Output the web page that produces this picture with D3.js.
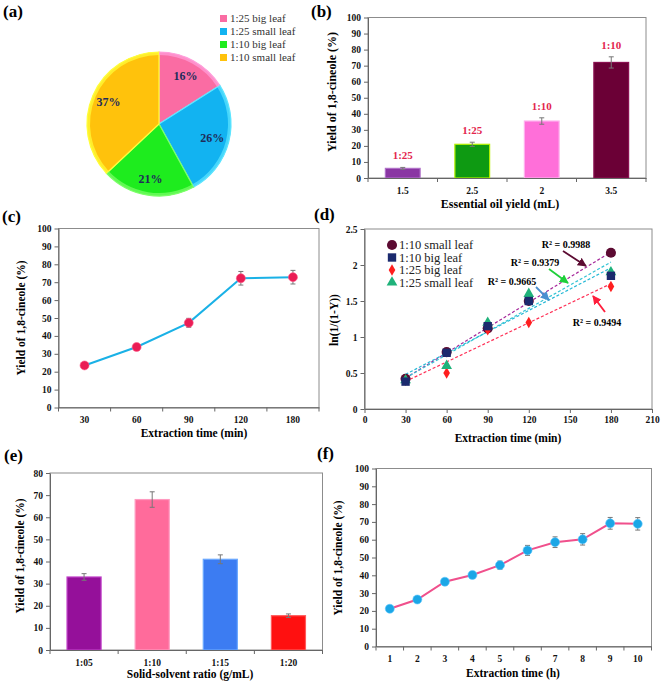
<!DOCTYPE html>
<html>
<head>
<meta charset="UTF-8">
<title>1,8-cineole extraction</title>
<script src="https://d3js.org/d3.v7.min.js"></script>
<style>
  body { margin: 0; background: #fff; }
  text { font-family: "Liberation Serif", "Times New Roman", serif; }
</style>
</head>
<body>
<script>
// ---------- data ----------
// (a) pie
var pieLabels = ["1:25 big leaf", "1:25 small leaf", "1:10 big leaf", "1:10 small leaf"];
var pieValues = [16, 26, 21, 37];

// (b) bars
var bCats = ["1.5", "2.5", "2", "3.5"];
var bValues = [6, 21, 35.5, 72];
var bErrors = [0.6, 1.3, 2, 3.5];
var bRatios = ["1:25", "1:25", "1:10", "1:10"];

// (c) yield vs time (min)
var cTimes = ["30", "60", "90", "120", "180"];
var cValues = [23.5, 33.8, 47.3, 72.2, 72.8];
var cErrors = [0.6, 0.8, 2.5, 3.8, 3.8];

// (d) kinetics
var dTimes = [30, 60, 90, 120, 180];
var dNames = ["1:10 small leaf", "1:10 big leaf", "1:25 big leaf", "1:25 small leaf"];
var dSmall10 = [0.42, 0.79, 1.12, 1.5, 2.17];
var dBig10 = [0.38, 0.78, 1.15, 1.5, 1.85];
var dBig25 = [0.4, 0.5, 1.1, 1.2, 1.7];
var dSmall25 = [0.4, 0.6, 1.2, 1.6, 1.9];
var dR2 = ["R² = 0.9988", "R² = 0.9665", "R² = 0.9494", "R² = 0.9379"];

// (e) solid-solvent ratio
var eCats = ["1:05", "1:10", "1:15", "1:20"];
var eValues = [33, 68, 41, 15.5];
var eErrors = [1.5, 3.5, 2, 0.8];

// (f) yield vs time (h)
var fTimes = ["1", "2", "3", "4", "5", "6", "7", "8", "9", "10"];
var fValues = [21.2, 26.4, 36.4, 40.2, 45.7, 54, 58.6, 60.2, 69.2, 68.9];
var fErrors = [1, 1.2, 1.8, 1.8, 2.3, 2.8, 3, 3.2, 3.3, 3.5];

// ---------- helpers ----------
var svg = d3.select("body").append("svg")
    .attr("width", 661)
    .attr("height", 682);

function panelLabel(txt, x, y) {
    svg.append("text")
        .attr("x", x).attr("y", y)
        .attr("font-size", 17).attr("font-weight", "bold")
        .text(txt);
}

function frame(x0, y0, x1, y1) {
    svg.append("rect")
        .attr("x", x0).attr("y", y0)
        .attr("width", x1 - x0).attr("height", y1 - y0)
        .attr("fill", "none").attr("stroke", "#8c8c8c").attr("stroke-width", 1);
}

function styleAxis(g) {
    g.select(".domain").attr("stroke", "#666");
    g.selectAll(".tick line").attr("stroke", "#666");
    g.selectAll(".tick text")
        .attr("font-size", 9.5).attr("font-weight", "bold")
        .attr("fill", "#111");
}

function yAxis(y, x0, ticks, fmt) {
    var g = svg.append("g").attr("transform", "translate(" + x0 + ",0)")
        .call(d3.axisLeft(y).tickValues(ticks).tickSize(4).tickSizeOuter(0).tickFormat(fmt || d3.format("")));
    styleAxis(g);
}

function bandXAxis(x, y0) {
    var g = svg.append("g").attr("transform", "translate(0," + y0 + ")")
        .call(d3.axisBottom(x).tickSize(0).tickPadding(9));
    styleAxis(g);
    // ticks sit between categories
    var edges = x.domain().map(function (d) { return x(d) - x.step() * x.paddingInner() / 2; });
    edges.push(x.range()[1]);
    svg.append("g").selectAll("line").data(edges).join("line")
        .attr("x1", function (d) { return d; }).attr("x2", function (d) { return d; })
        .attr("y1", y0).attr("y2", y0 + 4)
        .attr("stroke", "#666");
}

function titles(xt, xx, xy, yt, yx, yy, size) {
    svg.append("text").attr("x", xx).attr("y", xy)
        .attr("text-anchor", "middle").attr("font-size", size || 11.5).attr("font-weight", "bold")
        .text(xt);
    svg.append("text").attr("transform", "translate(" + yx + "," + yy + ") rotate(-90)")
        .attr("text-anchor", "middle").attr("font-size", size || 11.5).attr("font-weight", "bold")
        .text(yt);
}

function errorBars(data, xf, y, color) {
    var g = svg.append("g").attr("stroke", color || "#777").attr("stroke-width", 1);
    data.forEach(function (d) {
        var cx = xf(d), top = y(d.v + d.e), bot = y(d.v - d.e);
        g.append("line").attr("x1", cx).attr("x2", cx).attr("y1", top).attr("y2", bot);
        g.append("line").attr("x1", cx - 2.5).attr("x2", cx + 2.5).attr("y1", top).attr("y2", top);
        g.append("line").attr("x1", cx - 2.5).attr("x2", cx + 2.5).attr("y1", bot).attr("y2", bot);
    });
}

// ---------- (a) pie ----------
panelLabel("(a)", 3, 17);
var pieColors = ["#fa6ca3", "#12b3f1", "#1eec1e", "#ffc20c"];
var pieEdges = ["#ff9fdc", "#5ee6ff", "#7dff6a", "#ffff3a"];
var pie = d3.pie().sort(null)(pieValues);
var R = 72;
var pg = svg.append("g").attr("transform", "translate(159,124)");
var arc = d3.arc().innerRadius(0).outerRadius(R);
var rim = d3.arc().innerRadius(R - 3).outerRadius(R);
var labArc = d3.arc().innerRadius(55).outerRadius(55);
pg.selectAll("path.slice").data(pie).join("path")
    .attr("class", "slice")
    .attr("d", arc)
    .attr("fill", function (d, i) { return pieColors[i]; })
    .attr("stroke", function (d, i) { return pieEdges[i]; })
    .attr("stroke-width", 1.2);
pg.selectAll("path.rim").data(pie).join("path")
    .attr("class", "rim")
    .attr("d", rim)
    .attr("fill", function (d, i) { return pieEdges[i]; })
    .attr("opacity", 0.7);
pg.selectAll("text").data(pie).join("text")
    .attr("transform", function (d) { return "translate(" + labArc.centroid(d) + ")"; })
    .attr("text-anchor", "middle").attr("dy", "0.35em")
    .attr("font-size", 12).attr("font-weight", "bold").attr("fill", "#1f2d5a")
    .text(function (d) { return d.data + "%"; });
var lg = svg.append("g");
pieLabels.forEach(function (l, i) {
    lg.append("rect").attr("x", 220).attr("y", 15 + i * 13)
        .attr("width", 7).attr("height", 7).attr("fill", pieColors[i]);
    lg.append("text").attr("x", 230).attr("y", 22 + i * 13)
        .attr("font-size", 11).attr("fill", "#333").text(l);
});

// ---------- (b) bars ----------
panelLabel("(b)", 311, 17);
var bx = d3.scaleBand().domain(bCats).range([368, 646]).paddingInner(0.5).paddingOuter(0.25);
var by = d3.scaleLinear().domain([0, 100]).range([178, 17.5]);
frame(368, 17.5, 646, 178);
var bColors = ["#8a36a3", "#0e9a12", "#ff6fd9", "#6b0036"];
var bEdges = ["#b070c8", "#b4f000", "#ffb0ee", "#8a1050"];
svg.append("g").selectAll("rect").data(bValues).join("rect")
    .attr("x", function (d, i) { return bx(bCats[i]); })
    .attr("y", function (d) { return by(d); })
    .attr("width", bx.bandwidth())
    .attr("height", function (d) { return by(0) - by(d); })
    .attr("fill", function (d, i) { return bColors[i]; })
    .attr("stroke", function (d, i) { return bEdges[i]; })
    .attr("stroke-width", 1.2);
var bData = bValues.map(function (v, i) { return { c: bCats[i], v: v, e: bErrors[i] }; });
errorBars(bData, function (d) { return bx(d.c) + bx.bandwidth() / 2; }, by);
svg.append("g").selectAll("text").data(bData).join("text")
    .attr("x", function (d) { return bx(d.c) + bx.bandwidth() / 2; })
    .attr("y", function (d) { return by(d.v + d.e) - 8; })
    .attr("text-anchor", "middle").attr("font-size", 11).attr("font-weight", "bold")
    .attr("fill", "#e3254d")
    .text(function (d, i) { return bRatios[i]; });
yAxis(by, 368, d3.range(0, 101, 10));
bandXAxis(bx, 178);
titles("Essential oil yield (mL)", 500, 208, "Yield of 1,8-cineole (%)", 336, 92, 12);

// ---------- (c) line ----------
panelLabel("(c)", 2, 222);
var cx = d3.scaleBand().domain(cTimes).range([58.5, 319]);
var cy = d3.scaleLinear().domain([0, 100]).range([407.5, 228.5]);
frame(58.5, 228.5, 319, 407.5);
var cData = cValues.map(function (v, i) { return { c: cTimes[i], v: v, e: cErrors[i] }; });
var cxf = function (d) { return cx(d.c) + cx.bandwidth() / 2; };
errorBars(cData, cxf, cy);
svg.append("path").datum(cData)
    .attr("d", d3.line().x(cxf).y(function (d) { return cy(d.v); }))
    .attr("fill", "none").attr("stroke", "#1ab1e6").attr("stroke-width", 2);
svg.append("g").selectAll("circle").data(cData).join("circle")
    .attr("cx", cxf).attr("cy", function (d) { return cy(d.v); })
    .attr("r", 4.5).attr("fill", "#ea1d55").attr("stroke", "#ff5a8a").attr("stroke-width", 0.6);
yAxis(cy, 58.5, d3.range(0, 101, 10));
bandXAxis(cx, 407.5);
titles("Extraction time (min)", 194, 437, "Yield of 1,8-cineole (%)", 25, 318);

// ---------- (d) kinetics ----------
panelLabel("(d)", 314, 220);
var dx = d3.scaleLinear().domain([0, 210]).range([364.5, 652]);
var dy = d3.scaleLinear().domain([0, 2.5]).range([409, 229]);
frame(364.5, 229, 652, 409);
var dSeries = [dSmall10, dBig10, dBig25, dSmall25];
var dColors = ["#5c0b32", "#1b2a6e", "#ff1e1e", "#1fb27a"];
var dTrend = ["#a5279a", "#25b9d6", "#ff2f55", "#34c4d4"];
var dShapes = [d3.symbolCircle, d3.symbolSquare, d3.symbolDiamond, d3.symbolTriangle];
var dSizes = [80, 70, 38, 50];

function fit(ys) {
    var mx = d3.mean(dTimes), my = d3.mean(ys);
    var sxy = d3.sum(dTimes, function (t, i) { return (t - mx) * (ys[i] - my); });
    var sxx = d3.sum(dTimes, function (t) { return (t - mx) * (t - mx); });
    var b = sxy / sxx;
    return function (t) { return my + b * (t - mx); };
}
var tEnds = d3.extent(dTimes);
dSeries.forEach(function (ys, k) {
    var f = fit(ys);
    svg.append("path").datum(tEnds)
        .attr("d", d3.line().x(function (t) { return dx(t); }).y(function (t) { return dy(f(t)); }))
        .attr("stroke", dTrend[k]).attr("stroke-width", 1.2)
        .attr("stroke-dasharray", "3,2").attr("fill", "none");
});
// draw markers, small leaf 1:10 first so squares sit on top as in the figure
[0, 2, 3, 1].forEach(function (k) {
    svg.append("g").selectAll("path").data(dSeries[k]).join("path")
        .attr("transform", function (v, i) { return "translate(" + dx(dTimes[i]) + "," + dy(v) + ")"; })
        .attr("d", d3.symbol().type(dShapes[k]).size(dSizes[k]))
        .attr("fill", dColors[k]);
});
// legend
dNames.forEach(function (n, i) {
    svg.append("path")
        .attr("transform", "translate(392," + (245 + i * 12.5) + ")")
        .attr("d", d3.symbol().type(dShapes[i]).size(dSizes[i]))
        .attr("fill", dColors[i]);
    svg.append("text").attr("x", 399).attr("y", 249 + i * 12.5)
        .attr("font-size", 12.5).attr("fill", "#222").text(n);
});
// R² labels with arrows: [text x, text y, arrow from, arrow to, colour]
var rPos = [
    [566, 248, [563, 251], [586, 266], "#5c0b32"],
    [512, 285, [536, 287], [549, 300], "#4a8fd0"],
    [597, 326, [605, 312], [593, 296], "#ff1e3c"],
    [535, 266, [549, 269], [568, 283], "#1fcf3a"]
];
var defs = svg.append("defs");
rPos.forEach(function (p, i) {
    defs.append("marker").attr("id", "ah" + i)
        .attr("viewBox", "0 0 10 10").attr("refX", 9).attr("refY", 5)
        .attr("markerWidth", 5).attr("markerHeight", 5).attr("orient", "auto")
        .append("path").attr("d", "M0,0L10,5L0,10z").attr("fill", p[4]);
    svg.append("line")
        .attr("x1", p[2][0]).attr("y1", p[2][1]).attr("x2", p[3][0]).attr("y2", p[3][1])
        .attr("stroke", p[4]).attr("stroke-width", 1.8)
        .attr("marker-end", "url(#ah" + i + ")");
    svg.append("text").attr("x", p[0]).attr("y", p[1])
        .attr("text-anchor", "middle").attr("font-size", 10).attr("font-weight", "bold")
        .text(dR2[i]);
});
yAxis(dy, 364.5, d3.range(0, 2.51, 0.5), d3.format(""));
var gdx = svg.append("g").attr("transform", "translate(0,409)")
    .call(d3.axisBottom(dx).tickValues(d3.range(0, 211, 30)).tickSize(4).tickSizeOuter(0));
styleAxis(gdx);
titles("Extraction time (min)", 508, 442, "ln(1/(1-Y))", 338, 320);

// ---------- (e) bars ----------
panelLabel("(e)", 4, 461);
var ex = d3.scaleBand().domain(eCats).range([50, 322.5]).paddingInner(0.5).paddingOuter(0.25);
var ey = d3.scaleLinear().domain([0, 80]).range([650, 473]);
frame(50, 473, 322.5, 650);
var eColors = ["#95109a", "#ff6b9b", "#3c7cf2", "#ff1010"];
var eEdges = ["#c040c8", "#ff9ac0", "#6aa8ff", "#ff5a5a"];
svg.append("g").selectAll("rect").data(eValues).join("rect")
    .attr("x", function (d, i) { return ex(eCats[i]); })
    .attr("y", function (d) { return ey(d); })
    .attr("width", ex.bandwidth())
    .attr("height", function (d) { return ey(0) - ey(d); })
    .attr("fill", function (d, i) { return eColors[i]; })
    .attr("stroke", function (d, i) { return eEdges[i]; })
    .attr("stroke-width", 1.2);
var eData = eValues.map(function (v, i) { return { c: eCats[i], v: v, e: eErrors[i] }; });
errorBars(eData, function (d) { return ex(d.c) + ex.bandwidth() / 2; }, ey);
yAxis(ey, 50, d3.range(0, 81, 10));
bandXAxis(ex, 650);
titles("Solid-solvent ratio (g/mL)", 190, 678, "Yield of 1,8-cineole (%)", 24, 556);

// ---------- (f) line ----------
panelLabel("(f)", 317, 459);
var fx = d3.scaleBand().domain(fTimes).range([376, 651.5]);
var fy = d3.scaleLinear().domain([0, 100]).range([646.5, 468.5]);
frame(376, 468.5, 651.5, 646.5);
var fData = fValues.map(function (v, i) { return { c: fTimes[i], v: v, e: fErrors[i] }; });
var fxf = function (d) { return fx(d.c) + fx.bandwidth() / 2; };
errorBars(fData, fxf, fy);
svg.append("path").datum(fData)
    .attr("d", d3.line().x(fxf).y(function (d) { return fy(d.v); }))
    .attr("fill", "none").attr("stroke", "#f0508c").attr("stroke-width", 2);
svg.append("g").selectAll("circle").data(fData).join("circle")
    .attr("cx", fxf).attr("cy", function (d) { return fy(d.v); })
    .attr("r", 4.5).attr("fill", "#1ba6e6").attr("stroke", "#5cc8ff").attr("stroke-width", 0.6);
yAxis(fy, 376, d3.range(0, 101, 10));
bandXAxis(fx, 646.5);
titles("Extraction time (h)", 513, 677, "Yield of 1,8-cineole (%)", 342, 558);
</script>
</body>
</html>
